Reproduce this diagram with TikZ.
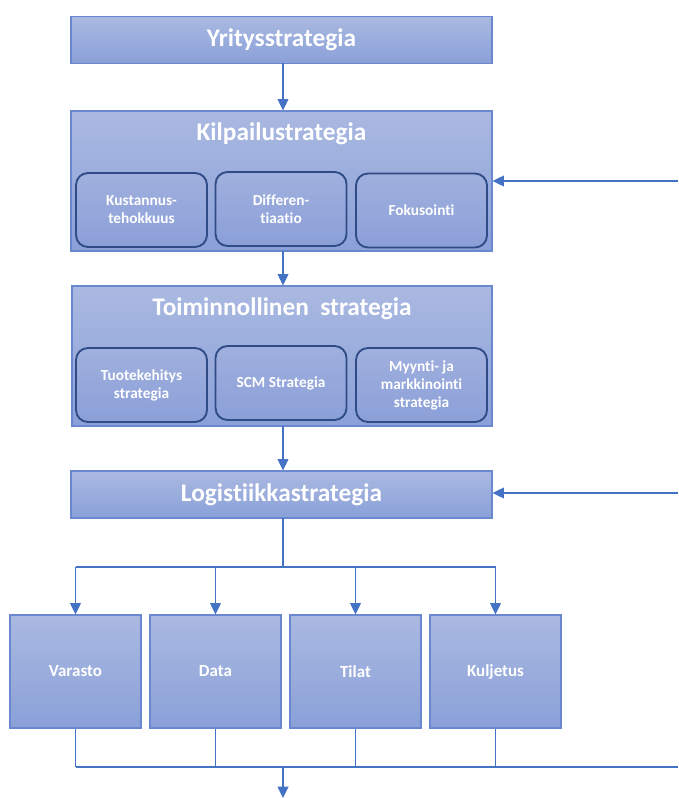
\documentclass[tikz,border=0pt]{standalone}
\usepackage{fontspec}
\setmainfont{Carlito}[Ligatures={NoCommon}]
\usetikzlibrary{arrows.meta}
\definecolor{linkblue}{HTML}{4472C4}
\definecolor{edgeblue}{HTML}{6A88CF}
\definecolor{navy}{HTML}{2F4C86}
\definecolor{shadetop}{HTML}{AAB9E1}
\definecolor{shadebot}{HTML}{8AA0D8}
\definecolor{innertop}{HTML}{A0B0DE}
\definecolor{innerbot}{HTML}{8B9FD8}
\tikzset{
  px/.style={x=0.75pt,y=-0.75pt},
  panel/.style={draw=edgeblue,line width=0.8pt,top color=shadetop,bottom color=shadebot,
    inner sep=0pt,text=white,font=\bfseries},
  subbox/.style={draw=navy,line width=1.4pt,rounded corners=9pt,top color=innertop,bottom color=innerbot,
    minimum width=98.25pt,minimum height=55.5pt,inner sep=0pt,align=center,text=white,
    font=\fontsize{11.5}{13.5}\selectfont\bfseries},
  titletext/.style={text=white,font=\fontsize{19}{22}\selectfont\bfseries,inner sep=0pt},
  unit/.style={panel,minimum width=98.25pt,minimum height=84.75pt,font=\fontsize{12.75}{15}\selectfont\bfseries},
  link/.style={draw=linkblue,line width=1.1pt},
  arr/.style={link,-{Triangle[length=8.5pt,width=8pt]}}
}
\begin{document}
\begin{tikzpicture}[px]
\useasboundingbox (0,0) rectangle (678,798);

% strategy levels
\node[panel,minimum width=315.75pt,minimum height=35.25pt,font=\fontsize{19}{22}\selectfont\bfseries]
  (yr) at (281.5,40) {Yritysstrategia};

\node[panel,minimum width=315.75pt,minimum height=105pt] (kp) at (281.5,181) {};
\node[titletext] (kpt) at (281.5,134) {Kilpailustrategia};
\node[subbox] (kus) at (141.5,210) {Kustannus-\\tehokkuus};
\node[subbox] (dif) at (281,209) {Differen-\\tiaatio};
\node[subbox] (fok) at (421.5,210.5) {Fokusointi};

\node[panel,minimum width=315pt,minimum height=105pt] (tm) at (282,356) {};
\node[titletext] (tmt) at (282,309) {Toiminnollinen\ \ strategia};
\node[subbox] (tk) at (141.5,385) {Tuotekehitys\\strategia};
\node[subbox] (scm) at (281,383) {SCM Strategia};
\node[subbox] (mm) at (421.5,385) {Myynti- ja\\markkinointi\\strategia};

\node[panel,minimum width=315.75pt,minimum height=35.25pt,font=\fontsize{19}{22}\selectfont\bfseries]
  (lg) at (281.5,494.5) {Logistiikkastrategia};

% logistics areas
\node[unit] (va) at (75.5,671.5) {Varasto};
\node[unit] (da) at (215.5,671.5) {Data};
\node[unit] (ti) at (355.5,671.5) {Tilat};
\node[unit] (ku) at (495.5,671.5) {Kuljetus};

% vertical flow
\coordinate (c1) at (283,63);
\coordinate (c2) at (283,251);
\coordinate (c3) at (283,426);
\draw[arr] (c1) -- (c1 |- kp.north);
\draw[arr] (c2) -- (c2 |- tm.north);
\draw[arr] (c3) -- (c3 |- lg.north);

% feedback inputs from the right
\coordinate (fb1) at (678,181);
\coordinate (fb2) at (678,493);
\draw[arr] (fb1) -- (fb1 -| kp.east);
\draw[arr] (fb2) -- (fb2 -| lg.east);

% distribution bus
\coordinate (lgo) at (283,518);
\coordinate (bus) at (283,567);
\draw[link] (lgo) -- (bus);
\draw[link] (va.north |- bus) -- (ku.north |- bus);
\foreach \n in {va,da,ti,ku}
  \draw[arr] (\n.north |- bus) -- (\n.north);

% collection bus
\coordinate (col) at (283,767);
\coordinate (colr) at (678,767);
\coordinate (out) at (283,798);
\foreach \n in {va,da,ti,ku}
  \draw[link] (\n.south) -- (\n.south |- col);
\draw[link] (va.south |- col) -- (colr);
\draw[arr] (col) -- (out);
\end{tikzpicture}
\end{document}
